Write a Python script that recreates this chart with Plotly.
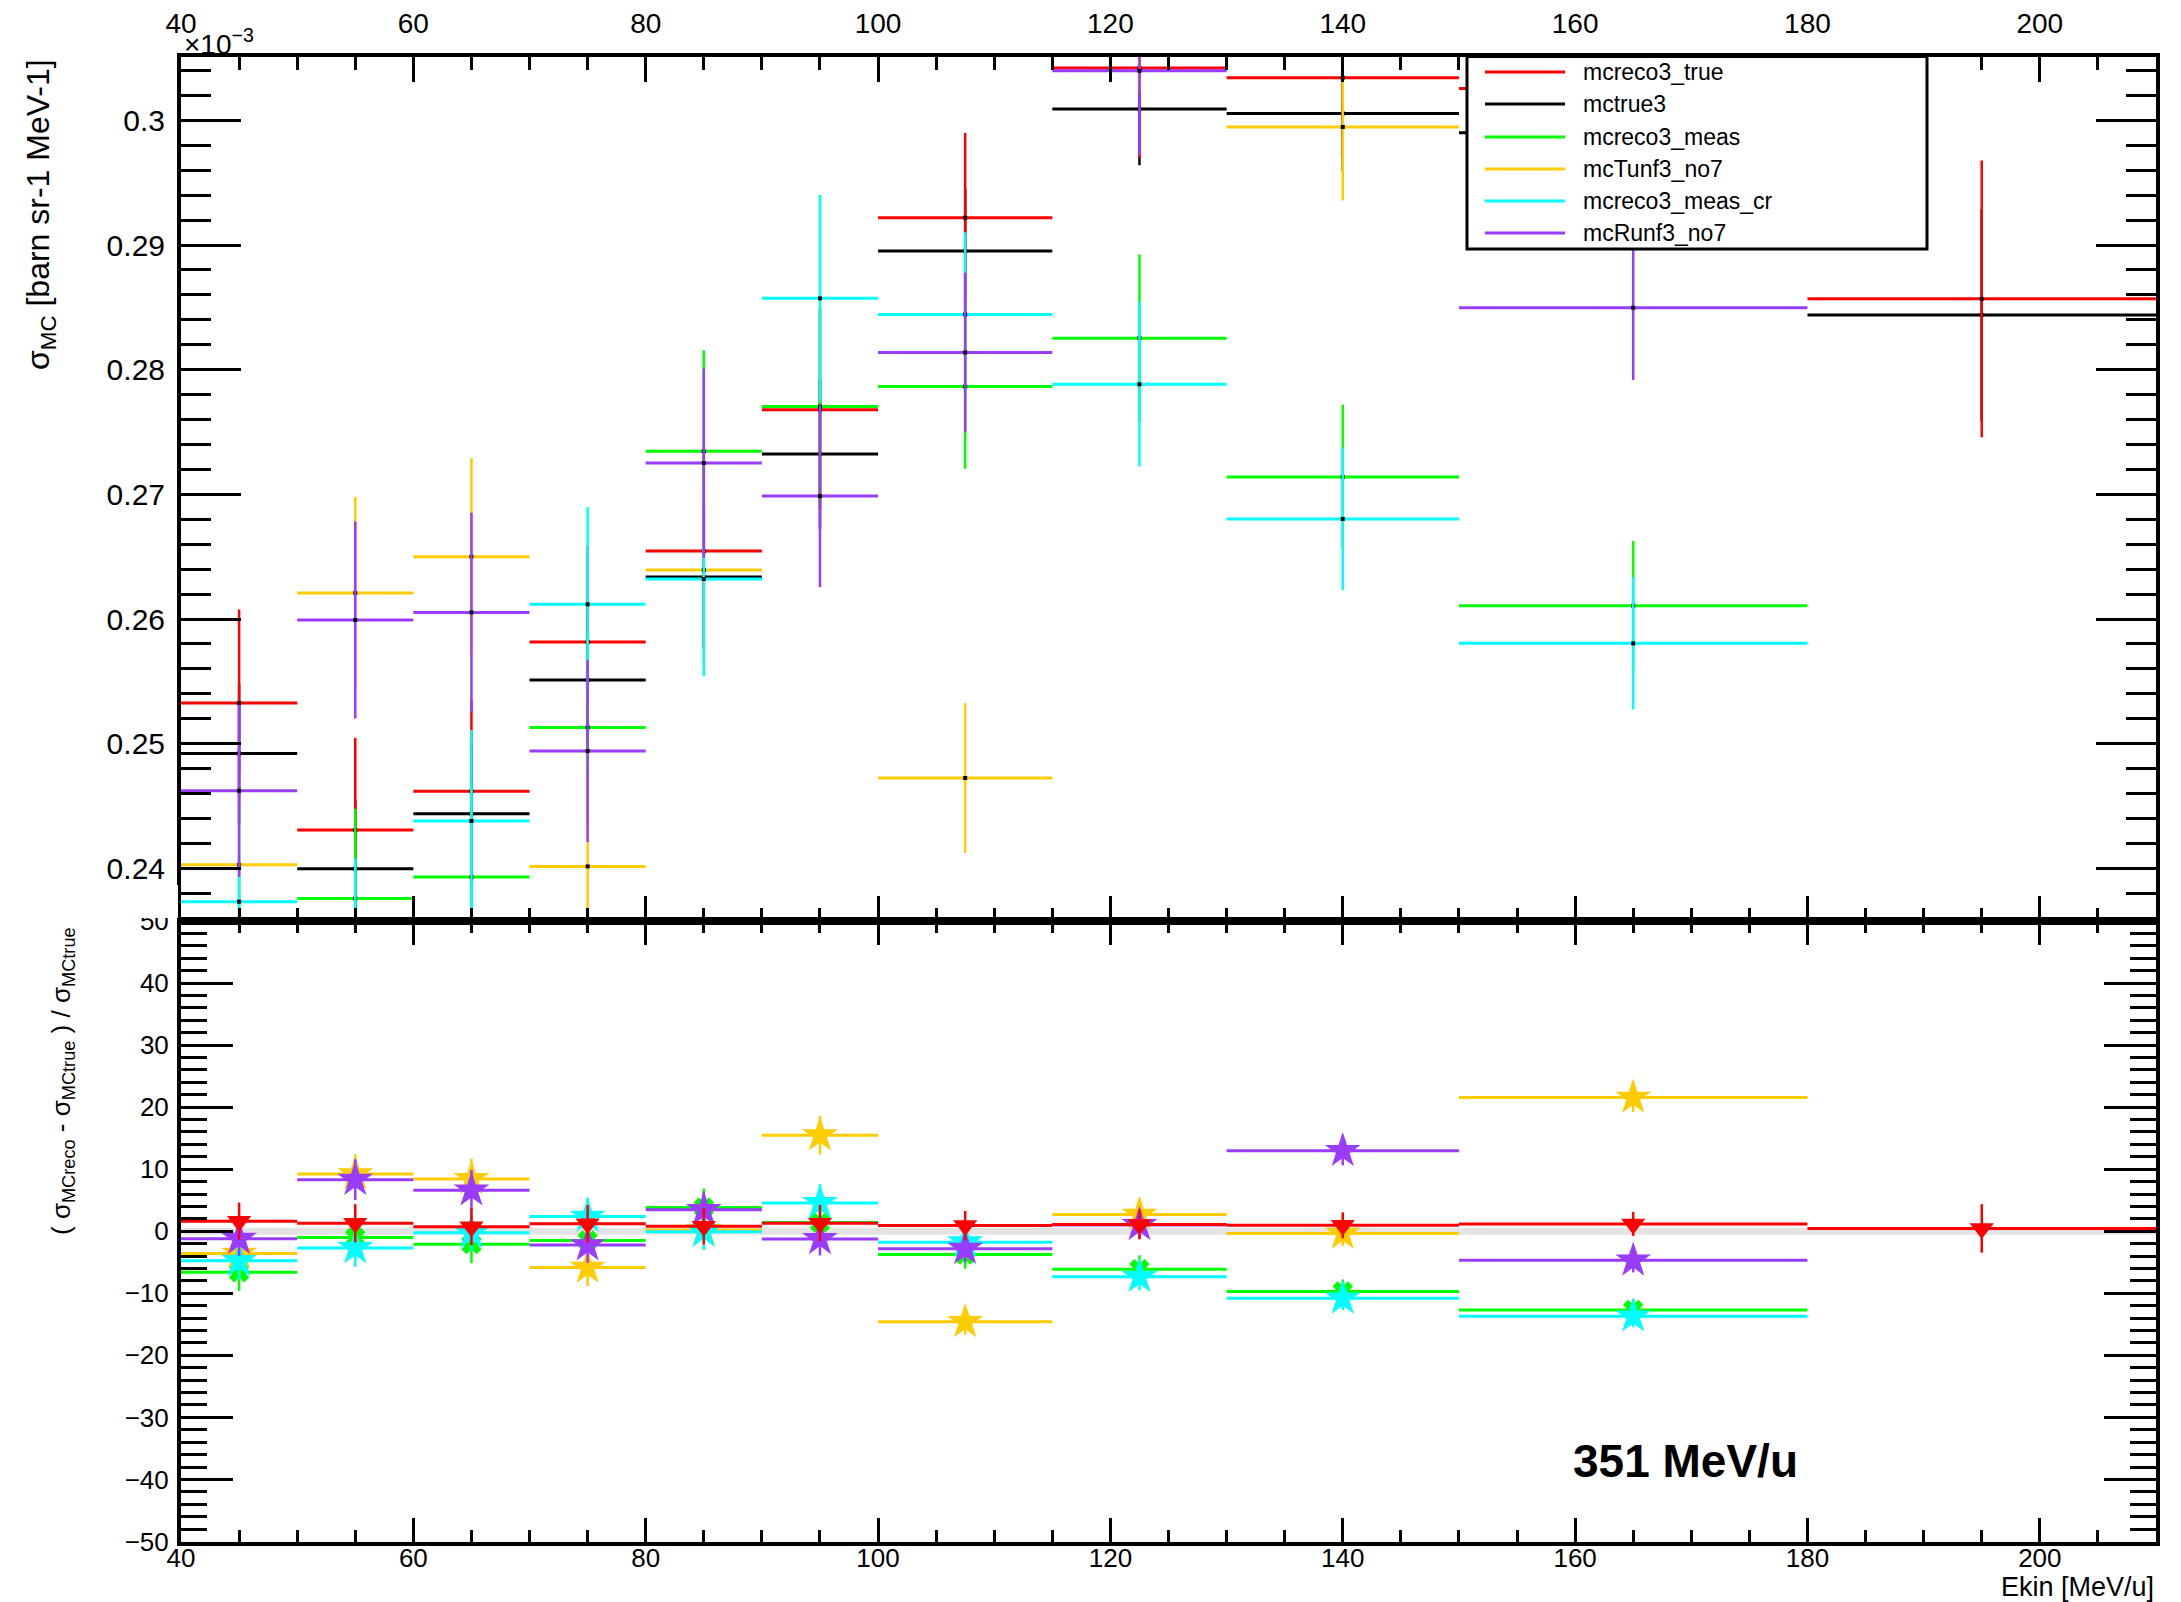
import plotly.graph_objects as go

# Kinetic-energy bins (MeV/u)
bin_edges = [40, 50, 60, 70, 80, 90, 100, 115, 130, 150, 180, 210]

# Cross sections in units of 1e-3 barn sr-1 MeV-1 (None = empty bin)
mcreco3_true = [0.25326, 0.24307, 0.24618, 0.25816, 0.26545, 0.27679, 0.29218, 0.30420, 0.30341, 0.30255, 0.28568]
mctrue3 = [0.24922, 0.23997, 0.24438, 0.25511, 0.26337, 0.27323, 0.28952, 0.30090, 0.30054, 0.29900, 0.28439]
mcreco3_meas = [0.23275, 0.23759, 0.23930, 0.25131, 0.27345, 0.27704, 0.27865, 0.28253, 0.27140, 0.26107, None]
mcTunf3_no7 = [0.24029, 0.26209, 0.26500, 0.24016, 0.26393, 0.31553, 0.24725, 0.30900, 0.29946, 0.36346, None]
mcreco3_meas_cr = [0.23733, 0.23351, 0.24380, 0.26118, 0.26321, 0.28572, 0.28443, 0.27883, 0.26803, 0.25805, None]
mcRunf3_no7 = [0.24623, 0.25992, 0.26053, 0.24941, 0.27251, 0.26986, 0.28138, 0.30398, 0.33949, 0.28497, None]

# Statistical uncertainties, same units
err_mcreco3_true = [0.0075, 0.0074, 0.0073, 0.0077, 0.0077, 0.0080, 0.0068, 0.0072, 0.0063, 0.0058, 0.0111]
err_mctrue3 = [0.0056, 0.0055, 0.0055, 0.0057, 0.0057, 0.0060, 0.0050, 0.0045, 0.0046, 0.0043, 0.0085]
err_mcreco3_meas = [0.0075, 0.0072, 0.0075, 0.0076, 0.0081, 0.0080, 0.0066, 0.0067, 0.0058, 0.0052, None]
err_mcTunf3_no7 = [0.0075, 0.0077, 0.0079, 0.0076, 0.0076, 0.0085, 0.0060, 0.0068, 0.0059, 0.0070, None]
err_mcreco3_meas_cr = [0.0075, 0.0073, 0.0073, 0.0078, 0.0078, 0.0083, 0.0066, 0.0066, 0.0057, 0.0053, None]
err_mcRunf3_no7 = [0.0069, 0.0079, 0.0080, 0.0073, 0.0076, 0.0073, 0.0064, 0.0068, 0.0070, 0.0058, None]

series_names = ["mcreco3_true", "mctrue3", "mcreco3_meas", "mcTunf3_no7", "mcreco3_meas_cr", "mcRunf3_no7"]
series_colors = ["#ff0000", "#000000", "#00ff00", "#ffcc00", "#00ffff", "#9a3cff"]
ratio_symbols = {"mcreco3_true": "triangle-down", "mcreco3_meas": "x",
                 "mcTunf3_no7": "star", "mcreco3_meas_cr": "star", "mcRunf3_no7": "star"}
ratio_sizes = {"mcreco3_true": 21, "mcreco3_meas": 18,
               "mcTunf3_no7": 27, "mcreco3_meas_cr": 27, "mcRunf3_no7": 27}

values = dict(zip(series_names, [mcreco3_true, mctrue3, mcreco3_meas, mcTunf3_no7, mcreco3_meas_cr, mcRunf3_no7]))
errors = dict(zip(series_names, [err_mcreco3_true, err_mctrue3, err_mcreco3_meas, err_mcTunf3_no7,
                                 err_mcreco3_meas_cr, err_mcRunf3_no7]))
colors = dict(zip(series_names, series_colors))

centers = [(a + b) / 2 for a, b in zip(bin_edges[:-1], bin_edges[1:])]
half_widths = [(b - a) / 2 for a, b in zip(bin_edges[:-1], bin_edges[1:])]

W, H = 2181, 1602


def px(x):
    return x / W


def py(y):
    return 1 - y / H


FONT = "Liberation Sans, Arial, Helvetica, sans-serif"
fig = go.Figure()

# Upper pad: cross sections drawn as histogram-style crosses
top_draw_order = ["mctrue3", "mcreco3_true", "mcreco3_meas", "mcTunf3_no7", "mcreco3_meas_cr", "mcRunf3_no7"]
for name in top_draw_order:
    xs, ys, ex, ey = [], [], [], []
    for c, hw, v, e in zip(centers, half_widths, values[name], errors[name]):
        if v is None:
            continue
        xs.append(c); ys.append(v); ex.append(hw); ey.append(e)
    fig.add_trace(go.Scatter(
        x=xs, y=ys, mode="markers", xaxis="x", yaxis="y",
        marker=dict(symbol="square", size=4, color="black", line=dict(width=0)),
        error_x=dict(type="data", array=ex, color=colors[name], thickness=3, width=0),
        error_y=dict(type="data", array=ey, color=colors[name], thickness=2.5, width=0),
        showlegend=False, hoverinfo="skip"))

# Lower pad: relative deviation from the true MC, in percent
truth = values["mctrue3"]
for name in ["mcreco3_meas", "mcTunf3_no7", "mcreco3_meas_cr", "mcRunf3_no7", "mcreco3_true"]:
    xs, ys, ex, ey = [], [], [], []
    for c, hw, v, e, t in zip(centers, half_widths, values[name], errors[name], truth):
        if v is None:
            continue
        xs.append(c); ys.append((v - t) / t * 100); ex.append(hw); ey.append(e / t * 100)
    fig.add_trace(go.Scatter(
        x=xs, y=ys, mode="markers", xaxis="x2", yaxis="y2",
        marker=dict(symbol=ratio_symbols[name], size=ratio_sizes[name], color=colors[name], line=dict(width=0)),
        error_x=dict(type="data", array=ex, color=colors[name], thickness=3, width=0),
        error_y=dict(type="data", array=ey, color=colors[name], thickness=2.5, width=0),
        showlegend=False, hoverinfo="skip"))

xdom = [px(181), px(2156)]
top_dom = [py(921), py(56.5)]
bot_dom = [py(1541.5), py(921)]

axis_common = dict(showline=True, linewidth=4, linecolor="black", mirror="ticks",
                   ticks="inside", tickwidth=3, tickcolor="black",
                   showgrid=False, zeroline=False, automargin=False)

fig.update_layout(
    width=W, height=H, margin=dict(l=0, r=0, t=0, b=0, autoexpand=False),
    paper_bgcolor="white", plot_bgcolor="white",
    font=dict(family=FONT, color="black"),
    xaxis=dict(domain=xdom, anchor="y", range=[40, 210], side="top",
               tick0=0, dtick=20, ticklen=25, tickfont=dict(size=28),
               ticklabelstandoff=8,
               minor=dict(dtick=5, ticks="inside", ticklen=13, tickwidth=3, tickcolor="black"),
               **axis_common),
    yaxis=dict(domain=top_dom, anchor="x", range=[0.23578, 0.30512],
               tick0=0, dtick=0.01, ticklen=60, tickfont=dict(size=30),
               ticklabelstandoff=6,
               minor=dict(dtick=0.002, ticks="inside", ticklen=30, tickwidth=3, tickcolor="black"),
               **axis_common),
    xaxis2=dict(domain=xdom, anchor="y2", range=[40, 210], side="bottom",
                tick0=0, dtick=20, ticklen=24, tickfont=dict(size=26),
                ticklabelstandoff=-10,
                minor=dict(dtick=5, ticks="inside", ticklen=12, tickwidth=3, tickcolor="black"),
                **axis_common),
    yaxis2=dict(domain=bot_dom, anchor="x2", range=[-50, 50],
                tick0=0, dtick=10, ticklen=52, tickfont=dict(size=26),
                ticklabelstandoff=3,
                minor=dict(dtick=2, ticks="inside", ticklen=26, tickwidth=3, tickcolor="black"),
                **axis_common),
)

shapes = []
# reference band at zero deviation in the lower pad
shapes.append(dict(type="line", xref="x2", yref="y2", x0=40, x1=210, y0=0, y1=0,
                   line=dict(color="#e3e3e3", width=7), layer="below"))
# the upper pad overlaps the top of the lower pad's first tick label
shapes.append(dict(type="rect", xref="paper", yref="paper",
                   x0=px(70), x1=px(178), y0=py(918), y1=py(885),
                   fillcolor="white", line=dict(width=0), layer="above"))

# legend box
lx0, lx1, ly0, ly1 = 1467, 1927, 56.5, 249
shapes.append(dict(type="rect", xref="paper", yref="paper",
                   x0=px(lx0), x1=px(lx1), y0=py(ly1), y1=py(ly0),
                   fillcolor="white", line=dict(color="black", width=3), layer="above"))
row_y = [72, 104, 137, 169, 201, 233]
annotations = []
for name, ry in zip(series_names, row_y):
    shapes.append(dict(type="line", xref="paper", yref="paper",
                       x0=px(1485), x1=px(1565), y0=py(ry), y1=py(ry),
                       line=dict(color=colors[name], width=3), layer="above"))
    annotations.append(dict(xref="paper", yref="paper", x=px(1581), y=py(ry),
                            xanchor="left", yanchor="middle", showarrow=False,
                            text=name, font=dict(size=23, family=FONT)))

# axis titles and labels
annotations += [
    dict(xref="paper", yref="paper", x=px(40), y=py(215), textangle=-90,
         xanchor="center", yanchor="middle", showarrow=False,
         text="σ<sub>MC</sub> [barn sr-1 MeV-1]", font=dict(size=32, family=FONT)),
    dict(xref="paper", yref="paper", x=px(62), y=py(1081), textangle=-90,
         xanchor="center", yanchor="middle", showarrow=False,
         text="( σ<sub>MCreco</sub> - σ<sub>MCtrue</sub> ) / σ<sub>MCtrue</sub>",
         font=dict(size=26, family=FONT)),
    dict(xref="paper", yref="paper", x=px(182), y=py(42),
         xanchor="left", yanchor="middle", showarrow=False,
         text="×10<sup>−3</sup>", font=dict(size=28, family=FONT)),
    dict(xref="paper", yref="paper", x=px(2156), y=py(1587),
         xanchor="right", yanchor="middle", showarrow=False,
         text="Ekin [MeV/u]", font=dict(size=27, family=FONT)),
    dict(xref="paper", yref="paper", x=px(1685), y=py(1461),
         xanchor="center", yanchor="middle", showarrow=False,
         text="<b>351 MeV/u</b>", font=dict(size=46, family=FONT)),
]

fig.update_layout(shapes=shapes, annotations=annotations)
fig.write_html("out.html")
